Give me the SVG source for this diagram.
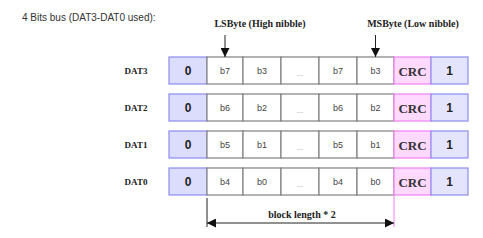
<svg xmlns="http://www.w3.org/2000/svg" width="483" height="238" viewBox="0 0 483 238">
<defs>
<style>
.cell{fill:#ffffff;stroke:#808080;stroke-width:1.2}
.zero{fill:#dcdcfc;stroke:#8c8cf0;stroke-width:1.2}
.one{fill:#e4e4fc;stroke:#8c8cf0;stroke-width:1.2}
.crc{fill:#ffd9ff;stroke:#f080f0;stroke-width:1.2}
.lbl{font-family:"Liberation Serif",serif;font-weight:bold;font-size:9px;fill:#222;text-anchor:middle}
.top{font-family:"Liberation Serif",serif;font-weight:bold;font-size:10px;fill:#222;text-anchor:middle}
.bit{font-family:"Liberation Sans",sans-serif;font-size:9px;fill:#444;text-anchor:middle}
.dots{font-family:"Liberation Sans",sans-serif;font-size:8px;fill:#999;text-anchor:middle}
.big{font-family:"Liberation Sans",sans-serif;font-weight:bold;font-size:12px;fill:#222;text-anchor:middle}
.crct{font-family:"Liberation Serif",serif;font-weight:bold;font-size:13px;fill:#333;text-anchor:middle}
.line{stroke:#222;stroke-width:1;fill:none}
</style>
<marker id="ah" viewBox="0 0 10 10" refX="10" refY="5" markerWidth="9" markerHeight="9" markerUnits="userSpaceOnUse" orient="auto-start-reverse">
<path d="M0,0 L10,5 L0,10 z" fill="#111"/>
</marker>
<g id="row">
<rect class="zero" x="169" y="0" width="38" height="27"/>
<rect class="cell" x="207" y="0" width="36" height="27"/>
<rect class="cell" x="243" y="0" width="38" height="27"/>
<rect class="cell" x="281" y="0" width="38" height="27"/>
<rect class="cell" x="319" y="0" width="38" height="27"/>
<rect class="cell" x="357" y="0" width="37" height="27"/>
<rect class="crc" x="394" y="0" width="37" height="27"/>
<rect class="one" x="431" y="0" width="37" height="27"/>
<text class="big" x="188" y="18">0</text>
<text class="dots" x="300" y="19">...</text>
<text class="crct" x="412.5" y="18.5">CRC</text>
<text class="big" x="449.5" y="18">1</text>
</g>
</defs>
<text x="22" y="21" font-family="Liberation Sans,sans-serif" font-size="10" fill="#333">4 Bits bus (DAT3-DAT0 used):</text>
<text class="top" x="260" y="27">LSByte (High nibble)</text>
<text class="top" x="413" y="27">MSByte (Low nibble)</text>
<g id="DAT3">
<use href="#row" y="57"/>
<text class="lbl" x="136" y="74">DAT3</text>
<text class="bit" x="225" y="74">b7</text><text class="bit" x="262" y="74">b3</text>
<text class="bit" x="338" y="74">b7</text><text class="bit" x="375.5" y="74">b3</text>
</g>
<g id="DAT2">
<use href="#row" y="94"/>
<text class="lbl" x="136" y="111">DAT2</text>
<text class="bit" x="225" y="111">b6</text><text class="bit" x="262" y="111">b2</text>
<text class="bit" x="338" y="111">b6</text><text class="bit" x="375.5" y="111">b2</text>
</g>
<g id="DAT1">
<use href="#row" y="131"/>
<text class="lbl" x="136" y="148">DAT1</text>
<text class="bit" x="225" y="148">b5</text><text class="bit" x="262" y="148">b1</text>
<text class="bit" x="338" y="148">b5</text><text class="bit" x="375.5" y="148">b1</text>
</g>
<g id="DAT0">
<use href="#row" y="168"/>
<text class="lbl" x="136" y="185">DAT0</text>
<text class="bit" x="225" y="185">b4</text><text class="bit" x="262" y="185">b0</text>
<text class="bit" x="338" y="185">b4</text><text class="bit" x="375.5" y="185">b0</text>
</g>
<g id="connectors">
<line class="line" x1="225" y1="35" x2="225" y2="57" marker-end="url(#ah)"/>
<line class="line" x1="375.5" y1="35" x2="375.5" y2="57" marker-end="url(#ah)"/>
<line class="line" x1="207" y1="198" x2="207" y2="227"/>
<line x1="394" y1="195" x2="394" y2="227" stroke="#f080f0" stroke-width="1"/>
<line class="line" x1="207" y1="223" x2="394" y2="223" marker-start="url(#ah)" marker-end="url(#ah)"/>
</g>
<text class="top" x="302" y="218">block length * 2</text>
</svg>
